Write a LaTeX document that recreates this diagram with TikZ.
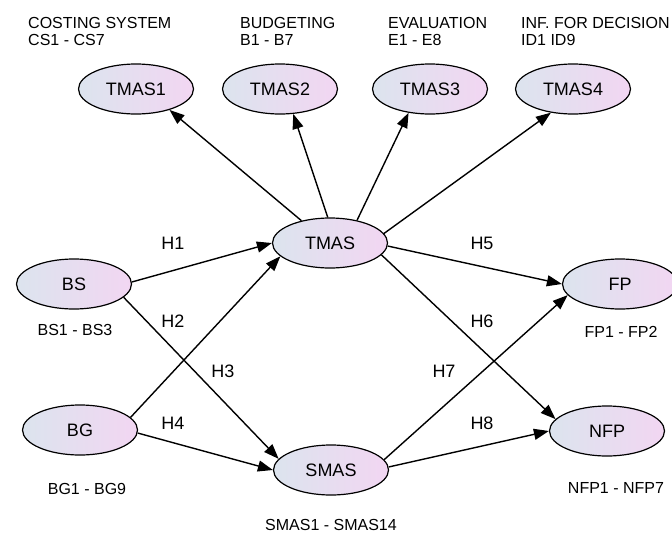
\documentclass[tikz,border=0pt]{standalone}
\usepackage{fontspec}
\setmainfont{Liberation Sans}
\usetikzlibrary{arrows.meta,shapes.geometric}
\definecolor{ellL}{RGB}{220,228,238}
\definecolor{ellR}{RGB}{242,214,242}
\begin{document}
\begin{tikzpicture}[x=1pt,y=-1pt,
  lv/.style={ellipse, draw=black, line width=1.2pt, minimum width=115pt, minimum height=50pt, inner sep=0pt, left color=ellL, right color=ellR, font=\fontsize{18}{20}\selectfont},
  lbl/.style={font=\fontsize{16}{18}\selectfont, inner sep=0pt},
  hl/.style={font=\fontsize{18}{20}\selectfont, inner sep=0pt},
  conn/.style={draw=black, line width=1.4pt, -{Triangle[length=15pt,width=11pt]}}]
\useasboundingbox (0,0) rectangle (672,533);

% latent variables
\node[lv] (TMAS1) at (136,89) {TMAS1};
\node[lv] (TMAS2) at (280,89) {TMAS2};
\node[lv] (TMAS3) at (430,89) {TMAS3};
\node[lv] (TMAS4) at (573,89) {TMAS4};
\node[lv] (TMAS) at (330,243) {TMAS};
\node[lv] (BS) at (74,284) {BS};
\node[lv] (FP) at (620,284) {FP};
\node[lv] (BG) at (80,430) {BG};
\node[lv] (SMAS) at (331,470) {SMAS};
\node[lv] (NFP) at (607,431) {NFP};

% top labels
\node[lbl, anchor=base west] (t1a) at (28,28) {COSTING SYSTEM};
\node[lbl, anchor=base west] (t1b) at (28,45) {CS1 - CS7};
\node[lbl, anchor=base west] (t2a) at (240,28) {BUDGETING};
\node[lbl, anchor=base west] (t2b) at (240,45) {B1 - B7};
\node[lbl, anchor=base west] (t3a) at (388,28) {EVALUATION};
\node[lbl, anchor=base west] (t3b) at (388,45) {E1 - E8};
\node[lbl, anchor=base west] (t4a) at (521,28) {INF. FOR DECISION};
\node[lbl, anchor=base west] (t4b) at (521,45) {ID1 ID9};

% indicator labels
\node[lbl] (bsl) at (75,330) {BS1 - BS3};
\node[lbl] (fpl) at (621,332) {FP1 - FP2};
\node[lbl] (bgl) at (87,489) {BG1 - BG9};
\node[lbl] (nfpl) at (616,488) {NFP1 - NFP7};
\node[lbl] (smasl) at (331,525) {SMAS1 - SMAS14};

% connectors
\draw[conn] (TMAS.142) -- (TMAS1.-32);
\draw[conn] (TMAS.95) -- (TMAS2.-62);
\draw[conn] (TMAS.40) -- (TMAS3.-132);
\draw[conn] (TMAS.10) -- (TMAS4.-133);
\draw[conn] (BS.2) -- (TMAS.west);
\draw[conn] (BS.-15) -- (SMAS.168);
\draw[conn] (BG.14) -- (TMAS.195);
\draw[conn] (BG.-3) -- (SMAS.west);
\draw[conn] (TMAS.-3) -- (FP.west);
\draw[conn] (TMAS.-13) -- (NFP.167);
\draw[conn] (SMAS.11) -- (FP.192);
\draw[conn] (SMAS.3) -- (NFP.west);

% hypothesis labels
\node[hl] (h1) at (173,243) {H1};
\node[hl] (h2) at (173,321) {H2};
\node[hl] (h3) at (223,371) {H3};
\node[hl] (h4) at (173,423) {H4};
\node[hl] (h5) at (482,243) {H5};
\node[hl] (h6) at (482,321) {H6};
\node[hl] (h7) at (444,371) {H7};
\node[hl] (h8) at (482,423) {H8};
\end{tikzpicture}
\end{document}
